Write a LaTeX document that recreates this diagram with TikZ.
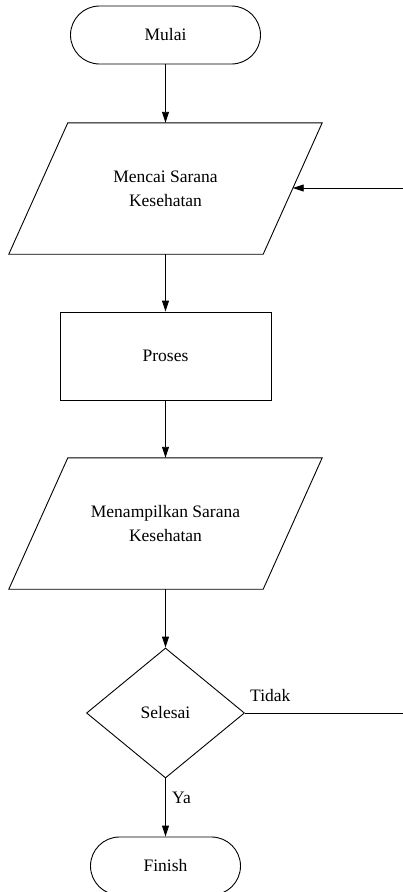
\documentclass[tikz,border=0pt]{standalone}
\usepackage{fontspec}
\setmainfont{Liberation Serif}
\usetikzlibrary{arrows.meta,shapes.geometric,calc}

\tikzset{
  lbl/.style={font=\fontsize{17.5}{24}\selectfont, align=center},
  terminal/.style={lbl, draw, line width=0.9pt, rounded corners=29pt, inner sep=0pt, minimum height=58pt},
  procbox/.style={lbl, draw, line width=0.9pt, inner sep=0pt, minimum width=211pt, minimum height=88pt},
  iobox/.style={lbl, inner sep=0pt, minimum width=313pt, minimum height=131pt},
  decision/.style={lbl, draw, diamond, line width=0.9pt, inner sep=0pt, minimum width=158pt, minimum height=130pt},
  flow/.style={line width=0.9pt, -{Triangle[length=11pt,width=7pt]}},
  plain/.style={line width=0.9pt},
  tag/.style={font=\fontsize{17.5}{24}\selectfont, inner sep=0pt}
}

\begin{document}
\begin{tikzpicture}[x=1pt,y=-1pt]
\useasboundingbox (0,0) rectangle (403,892);
\clip (0,0) rectangle (403,892);

% start
\node[terminal, minimum width=190pt] (start) at (165.5,35) {Mulai};

% input: search
\node[iobox] (search) at (165.5,188.5) {Mencai Sarana\\Kesehatan};
\draw[plain] ($(search.north west)+(59,0)$) -- (search.north east)
  -- ($(search.south east)+(-59,0)$) -- (search.south west) -- cycle;

% process
\node[procbox] (proc) at (165.5,356) {Proses};

% output: show results
\node[iobox] (show) at (165.5,523.5) {Menampilkan Sarana\\Kesehatan};
\draw[plain] ($(show.north west)+(59,0)$) -- (show.north east)
  -- ($(show.south east)+(-59,0)$) -- (show.south west) -- cycle;

% decision
\node[decision] (done) at (165.5,713) {Selesai};

% end
\node[terminal, minimum width=150pt] (finish) at (165.5,866) {Finish};

% loop-back ends
\coordinate (loopin) at (403,188);
\coordinate (searchside) at ($(search.east)+(-29.5,-0.5)$);
\coordinate (loopout) at (403,713);

% connectors
\draw[flow] (start.south) -- (search.north);
\draw[flow] (search.south) -- (proc.north);
\draw[flow] (proc.south) -- (show.north);
\draw[flow] (show.south) -- (done.north);
\draw[flow] (done.south) -- (finish.north);
\draw[flow] (loopin) -- (searchside);
\draw[plain] (done.east) -- (loopout);

% branch labels
\node[tag, anchor=base west] (no) at (250,701) {Tidak};
\node[tag, anchor=base west] (yes) at (172,803) {Ya};
\end{tikzpicture}
\end{document}
